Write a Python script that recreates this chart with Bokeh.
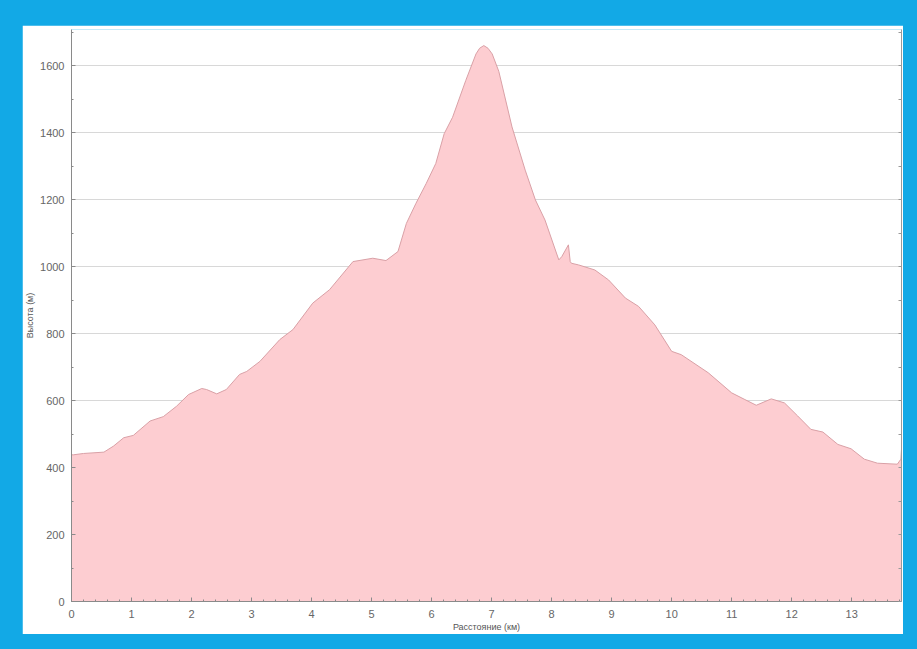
from bokeh.plotting import figure
from bokeh.models import Range1d, SingleIntervalTicker, FixedTicker, LinearAxis, Column
from bokeh.embed import file_html
from bokeh.resources import INLINE

distance_km = [0.0, 0.03, 0.2, 0.54, 0.70, 0.87, 1.03, 1.31, 1.53, 1.75, 1.95, 2.17, 2.25, 2.42, 2.58,
               2.80, 2.92, 3.14, 3.47, 3.69, 4.02, 4.30, 4.69, 5.02, 5.24, 5.44, 5.58, 5.74, 5.91,
               6.07, 6.21, 6.35, 6.57, 6.74, 6.80, 6.87, 6.94, 7.01, 7.12, 7.34, 7.56, 7.73, 7.89,
               8.12, 8.17, 8.28, 8.31, 8.33, 8.45, 8.72, 8.95, 9.23, 9.45, 9.72, 10.0, 10.16, 10.61,
               11.0, 11.22, 11.41, 11.66, 11.88, 12.1, 12.32, 12.52, 12.77, 12.99, 13.21, 13.43,
               13.76, 13.82, 13.83]
elevation_m = [438, 438, 442, 446, 464, 489, 496, 539, 552, 583, 618, 636, 633, 620, 633,
               678, 687, 717, 782, 812, 891, 931, 1015, 1025, 1018, 1045, 1129, 1189, 1248,
               1308, 1397, 1446, 1556, 1635, 1652, 1660, 1652, 1635, 1583, 1417, 1288, 1199, 1139,
               1020, 1030, 1065, 1015, 1010, 1005, 990, 960, 906, 881, 826, 747, 737, 683,
               623, 603, 586, 605, 593, 554, 514, 506, 469, 456, 425, 413,
               410, 425, 455]

x_label = "Расстояние (км)"
y_label = "Высота (м)"
right_minor_ticks = list(range(0, 1800, 100))

p = figure(width=881, height=609, output_backend="svg", toolbar_location=None,
           x_range=Range1d(0, 13.83), y_range=Range1d(0, 1708),
           min_border_left=46, min_border_right=2, min_border_top=4, min_border_bottom=31,
           background_fill_color="white", border_fill_color="white", outline_line_color=None)

p.varea(x=distance_km, y1=0, y2=elevation_m, fill_color="#fdcdd1", fill_alpha=1.0)
p.line(distance_km, elevation_m, line_color="#d9a0a6", line_width=1)

p.xaxis.ticker = SingleIntervalTicker(interval=1, num_minor_ticks=5)
p.yaxis.ticker = SingleIntervalTicker(interval=200, num_minor_ticks=2)
p.xgrid.grid_line_color = None
p.ygrid.grid_line_color = "#d8d8d8"
p.ygrid.ticker = SingleIntervalTicker(interval=200)

for ax in (p.xaxis[0], p.yaxis[0]):
    ax.axis_line_color = "#8a8a8a"
    ax.major_tick_line_color = "#8a8a8a"
    ax.minor_tick_line_color = "#8a8a8a"
    ax.major_tick_in = 4
    ax.major_tick_out = 0
    ax.minor_tick_in = 2
    ax.minor_tick_out = 0
    ax.major_label_text_font = "Liberation Sans"
    ax.major_label_text_font_size = "11px"
    ax.major_label_text_color = "#666666"
    ax.axis_label_text_font = "Liberation Sans"
    ax.axis_label_text_font_size = "9px"
    ax.axis_label_text_font_style = "normal"
    ax.axis_label_text_color = "#555555"

p.xaxis.axis_label = x_label
p.yaxis.axis_label = y_label
p.xaxis.major_label_standoff = 8
p.xaxis.axis_label_standoff = 1
p.yaxis.major_label_standoff = 7
p.yaxis.axis_label_standoff = 2

ra = LinearAxis(ticker=FixedTicker(ticks=[], minor_ticks=right_minor_ticks))
ra.axis_line_color = "#9a9a9a"
ra.minor_tick_line_color = "#9a9a9a"
ra.minor_tick_in = 3
ra.minor_tick_out = 0
ra.major_tick_in = 0
ra.major_tick_out = 0
ra.major_label_standoff = 0
p.add_layout(ra, "right")

layout = Column(p, styles={"background-color": "#12a9e6", "padding": "25px 14px 15px 22px"})

open("out.html", "w").write(file_html(layout, INLINE))
